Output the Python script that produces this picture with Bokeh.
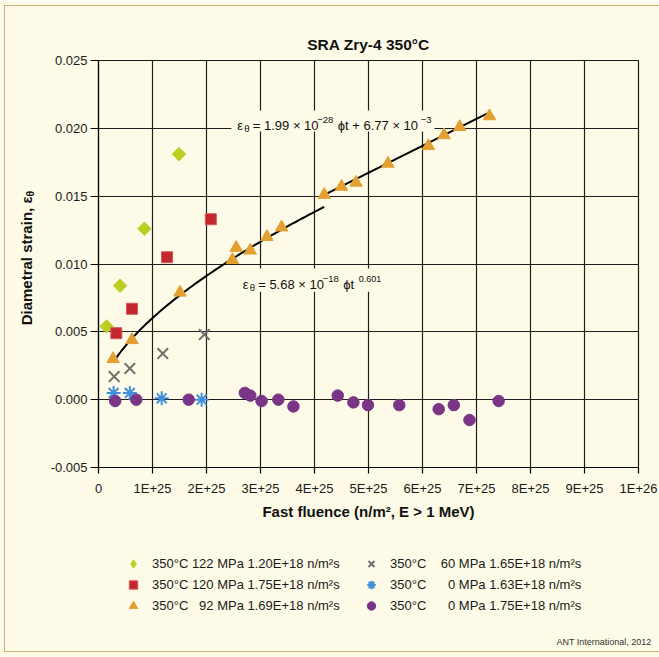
import numpy as np
from bokeh.plotting import figure
from bokeh.layouts import column, row
from bokeh.models import (FixedTicker, NumeralTickFormatter, Label, BoxAnnotation,
                          Legend, LegendItem, Range1d, InlineStyleSheet)
from bokeh.embed import file_html
from bokeh.resources import INLINE

# Fast fluence in units of 1E+25 n/m2 (E > 1 MeV) and diametral strain
fl_122 = [0.15, 0.40, 0.85, 1.49]
st_122 = [0.0054, 0.0084, 0.0126, 0.0181]

fl_120 = [0.33, 0.62, 1.27, 2.08]
st_120 = [0.0049, 0.0067, 0.0105, 0.0133]

fl_92 = [0.27, 0.62, 1.51, 2.48, 2.55, 2.81, 3.12, 3.39, 4.18, 4.50, 4.77,
         5.36, 6.11, 6.40, 6.69, 7.24]
st_92 = [0.0030, 0.0044, 0.0079, 0.0103, 0.0112, 0.0110, 0.0120, 0.0127,
         0.0151, 0.0157, 0.0160, 0.0174, 0.0187, 0.0195, 0.0201, 0.0209]

fl_60 = [0.29, 0.58, 1.19, 1.96]
st_60 = [0.0017, 0.0023, 0.0034, 0.0048]

fl_0a = [0.28, 0.58, 1.17, 1.91]
st_0a = [0.0005, 0.0005, 0.0001, 0.0000]

fl_0b = [0.31, 0.70, 1.67, 2.71, 2.81, 3.02, 3.33, 3.61, 4.43, 4.72, 4.99,
         5.57, 6.30, 6.58, 6.87, 7.41]
st_0b = [-0.0001, 0.0000, 0.0000, 0.0005, 0.0003, -0.0001, 0.0000, -0.0005,
         0.0003, -0.0002, -0.0004, -0.0004, -0.0007, -0.0004, -0.0015, -0.0001]

series_labels = [
    "350°C 122 MPa 1.20E+18 n/m²s",
    "350°C 120 MPa 1.75E+18 n/m²s",
    "350°C \u200792 MPa 1.69E+18 n/m²s",
    "350°C \u2007 60 MPa 1.65E+18 n/m²s",
    "350°C \u2007\u2007 0 MPa 1.63E+18 n/m²s",
    "350°C \u2007\u2007 0 MPa 1.75E+18 n/m²s",
]

x_ticks = list(range(11))
x_tick_labels = ["0", "1E+25", "2E+25", "3E+25", "4E+25", "5E+25", "6E+25",
                 "7E+25", "8E+25", "9E+25", "1E+26"]
y_ticks = [-0.005, 0.0, 0.005, 0.010, 0.015, 0.020, 0.025]

# Fitted curves (fluence in n/m2)
pow_coef, pow_exp = 5.68e-18, 0.601
lin_slope, lin_icpt = 1.99e-28, 6.77e-3
UNIT = 1e25

BG = "#FDFBE7"
FONT = "Liberation Sans"
INK = "#111111"

# series styles: plot marker, legend marker, plot size, legend size, fill, line, width, angle
styles = [
    ("square", "diamond", 9.5, 13.5, "#BACF22", "#BACF22", 1, np.pi / 4),
    ("square", "square", 11, 11, "#C1272D", "#D9595C", 1, 0),
    ("triangle", "triangle", 12.5, 12.5, "#E3A032", "#E3A032", 1, 0),
    ("x", "x", 15, 15, None, "#6E6E6E", 2, 0),
    ("asterisk", "asterisk", 14, 14, None, "#3F8FDC", 2, 0),
    ("circle", "circle", 11.5, 11.5, "#7A3586", "#7A3586", 1, 0),
]
series = [(fl_122, st_122), (fl_120, st_120), (fl_92, st_92),
          (fl_60, st_60), (fl_0a, st_0a), (fl_0b, st_0b)]


def bare(fig):
    fig.background_fill_color = BG
    fig.border_fill_color = BG
    fig.outline_line_color = None
    fig.min_border_left = fig.min_border_right = 0
    fig.min_border_top = fig.min_border_bottom = 0
    fig.grid.visible = False


# ---- main chart ----------------------------------------------------------
p = figure(width=614, height=530, x_range=Range1d(0, 10), y_range=Range1d(-0.005, 0.025),
           output_backend="svg", toolbar_location=None,
           min_border_left=53, min_border_right=21, min_border_top=60, min_border_bottom=63)
p.background_fill_color = BG
p.border_fill_color = BG
p.outline_line_color = "#1A1A1A"
p.outline_line_width = 1.2

p.title.text = "SRA Zry-4 350°C"
p.title.align = "center"
p.title.text_font = FONT
p.title.text_font_size = "15.5px"
p.title.text_font_style = "bold"
p.title.text_color = INK
p.title.standoff = 15

p.xaxis.ticker = FixedTicker(ticks=x_ticks)
p.xaxis.major_label_overrides = {t: s for t, s in zip(x_ticks, x_tick_labels)}
p.yaxis.ticker = FixedTicker(ticks=y_ticks)
p.yaxis.formatter = NumeralTickFormatter(format="0.000")
for ax in (p.xaxis[0], p.yaxis[0]):
    ax.axis_line_color = "black"
    ax.axis_line_width = 1.2
    ax.major_tick_line_color = "black"
    ax.major_tick_line_width = 1.2
    ax.major_tick_in = 0
    ax.minor_tick_line_color = None
    ax.major_label_text_font = FONT
    ax.major_label_text_font_size = "13px"
    ax.major_label_text_color = "#1A1A1A"
p.yaxis.major_tick_out = 8
p.yaxis.major_label_standoff = 3
p.xaxis.major_tick_out = 6
p.xaxis.major_label_standoff = 7
p.xaxis.axis_label = "Fast fluence (n/m², E > 1 MeV)"
p.xaxis.axis_label_text_font = FONT
p.xaxis.axis_label_text_font_style = "bold"
p.xaxis.axis_label_text_font_size = "15px"
p.xaxis.axis_label_text_color = INK
p.xaxis.axis_label_standoff = 4

p.xgrid.ticker = FixedTicker(ticks=x_ticks)
p.ygrid.ticker = FixedTicker(ticks=y_ticks)
p.grid.grid_line_color = "#1E1E1E"
p.grid.grid_line_width = 1.2

# boxes that hide the grid behind the equations
p.add_layout(BoxAnnotation(left=2.46, right=6.22, bottom=0.01976, top=0.02131,
                           fill_color=BG, fill_alpha=1, line_color=None))
p.add_layout(BoxAnnotation(left=2.61, right=5.23, bottom=0.00796, top=0.00966,
                           fill_color=BG, fill_alpha=1, line_color=None))

# fit lines
f_pow = np.linspace(fl_92[0], fl_92[8], 120)
p.line(f_pow, pow_coef * (f_pow * UNIT) ** pow_exp, line_color="black", line_width=2)
f_lin = np.linspace(fl_92[8], fl_92[-1], 2)
p.line(f_lin, lin_slope * f_lin * UNIT + lin_icpt, line_color="black", line_width=2)

# data series
for (fx, fy), (mk, _m, size, _s, fill, line, lw, ang) in zip(series, styles):
    p.scatter(fx, fy, marker=mk, size=size, angle=ang,
              fill_color=fill, line_color=line, line_width=lw)


def eq_piece(x, y, text, dx, dy, size):
    p.add_layout(Label(x=x, y=y, text=text, x_offset=dx, y_offset=dy,
                       text_font=FONT, text_font_size=size, text_color=INK,
                       text_baseline="alphabetic"))


eq1_x, eq1_y = 2.57, 0.0202
for dx, dy, size, txt in [(0, 0, "13px", "ε"), (7, -3, "9.5px", "θ"),
                          (15.5, 0, "13px", "= 1.99 × 10"), (80, 5.5, "9.5px", "−28"),
                          (100.5, 0, "13px", "ϕt + 6.77 × 10"), (183.5, 5.5, "9.5px", "−3")]:
    eq_piece(eq1_x, eq1_y, txt, dx, dy, size)

eq2_x, eq2_y = 2.67, 0.00848
for dx, dy, size, txt in [(0, 0, "13px", "ε"), (7, -3, "9.5px", "θ"),
                          (15.5, 0, "13px", "= 5.68 × 10"), (80, 5.5, "9.5px", "−18"),
                          (100.5, 0, "13px", "ϕt"), (116, 6, "9px", "0.601")]:
    eq_piece(eq2_x, eq2_y, txt, dx, dy, size)

# ---- y axis title strip (its frame lines up with the chart frame) ----------
py = figure(width=45, height=530, x_range=Range1d(0, 1), y_range=Range1d(0, 1),
            output_backend="svg", toolbar_location=None,
            x_axis_location=None, y_axis_location=None)
bare(py)
py.add_layout(Label(x=26, y=271, x_units="screen", y_units="screen", angle=np.pi / 2,
                    text="Diametral strain, ε", text_font=FONT, text_font_size="15px",
                    text_font_style="bold", text_color=INK,
                    text_align="right", text_baseline="middle"))
py.add_layout(Label(x=29.5, y=271, x_units="screen", y_units="screen", angle=np.pi / 2,
                    text="θ", text_font=FONT, text_font_size="10.5px",
                    text_font_style="bold", text_color=INK,
                    text_align="left", text_baseline="middle"))

# ---- legend and credit strip -----------------------------------------------
# the legend swatches reuse the series, kept outside this strip's visible range
pl = figure(width=659, height=127, x_range=Range1d(-2, -1), y_range=Range1d(0, 1),
            output_backend="svg", toolbar_location=None,
            x_axis_location=None, y_axis_location=None)
bare(pl)
items = []
for lbl, (fx, fy), (_m, mk, _s, size, fill, line, lw, _a) in zip(series_labels, series, styles):
    r = pl.scatter(fx, fy, marker=mk, size=size, fill_color=fill, line_color=line, line_width=lw)
    items.append(LegendItem(label=lbl, renderers=[r]))
pl.add_layout(Legend(items=items, location=(122, 41.5), orientation="vertical", nrows=3,
                     glyph_width=22, glyph_height=21, label_height=21, spacing=0,
                     label_standoff=8, label_width=208, padding=0, margin=0,
                     border_line_color=None, background_fill_alpha=0,
                     label_text_font=FONT, label_text_font_size="13px",
                     label_text_color="#1A1A1A"))
pl.add_layout(Label(x=651, y=16, x_units="screen", y_units="screen",
                    text="ANT International, 2012", text_font=FONT, text_font_size="9px",
                    text_color="#333333", text_align="right", text_baseline="middle"))

layout = column(row(py, p), pl)
# thin tan frame around the whole picture
layout.stylesheets = [InlineStyleSheet(css="""
:host::after { content: ""; position: absolute; left: 4px; top: 5px; right: 0px; bottom: 5px;
               border: 1.5px solid #D2B075; border-right: none; pointer-events: none; }
""")]

open("out.html", "w").write(file_html(layout, INLINE))
